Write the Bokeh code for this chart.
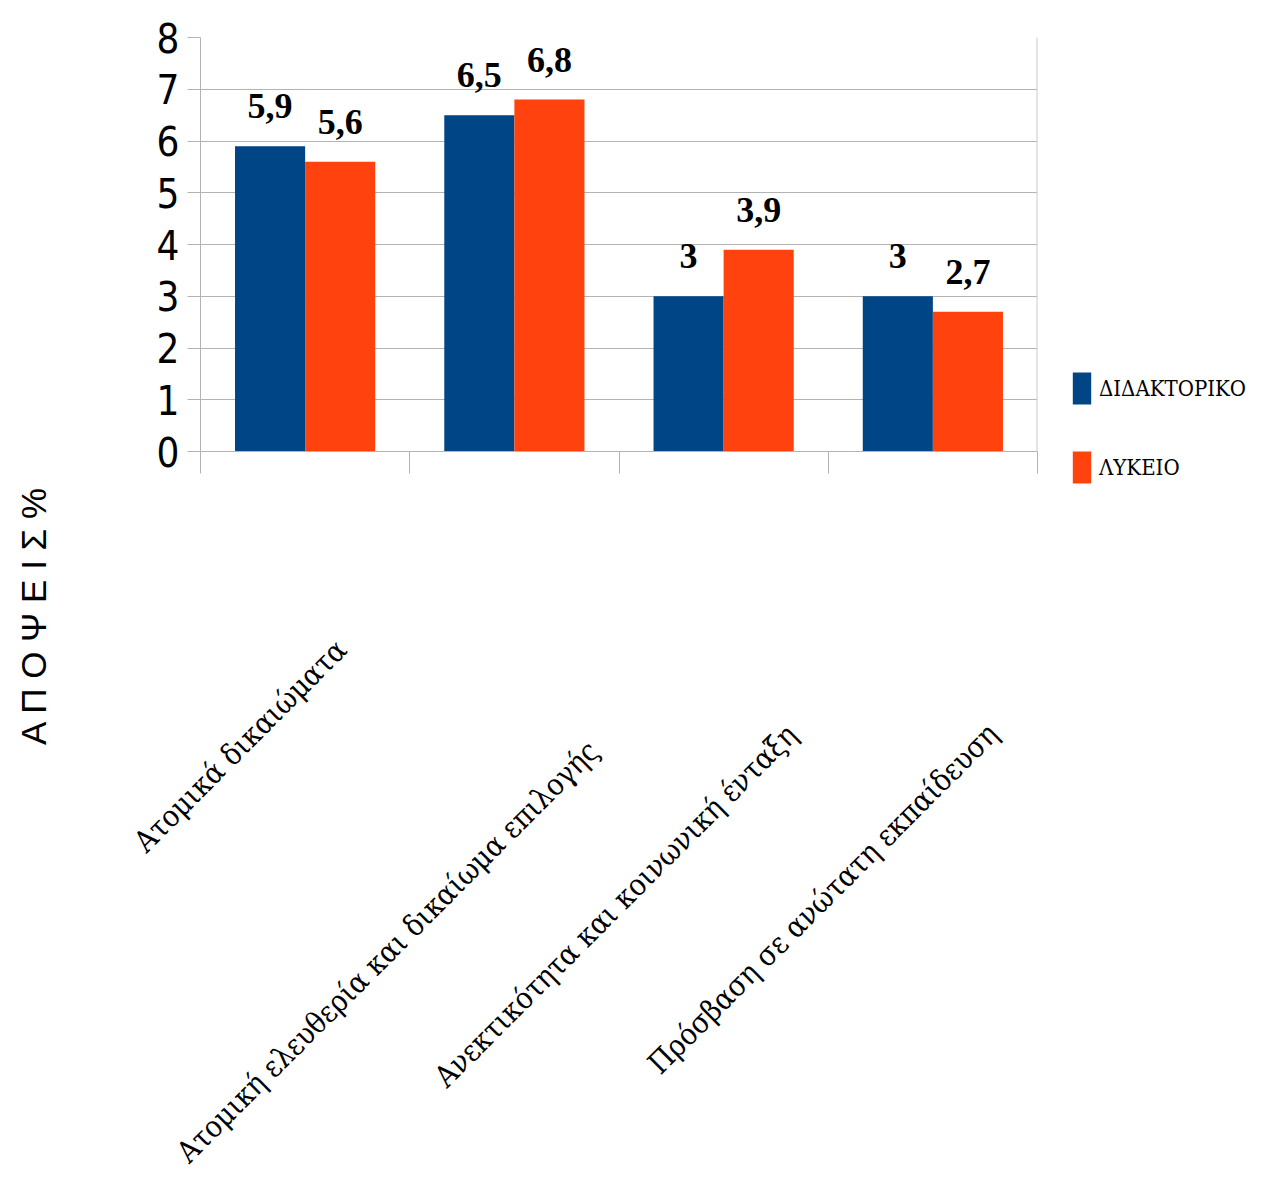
import numpy as np
from math import pi
from bokeh.plotting import figure
from bokeh.layouts import column, row
from bokeh.models import (ColumnDataSource, Range1d, FixedTicker, Span,
                          LabelSet, Legend, LegendItem)
from bokeh.core.properties import value
from bokeh.embed import file_html
from bokeh.resources import INLINE

# ---- data ----
categories = [
    "Ατομικά δικαιώματα",
    "Ατομική ελευθερία και δικαίωμα επιλογής",
    "Ανεκτικότητα και κοινωνική ένταξη",
    "Πρόσβαση σε ανώτατη εκπαίδευση",
]
series_names = ["ΔΙΔΑΚΤΟΡΙΚΟ", "ΛΥΚΕΙΟ"]
didaktoriko = [5.9, 6.5, 3.0, 3.0]
lykeio = [5.6, 6.8, 3.9, 2.7]
y_ticks = [0, 1, 2, 3, 4, 5, 6, 7, 8]
y_title = "Α Π Ο Ψ Ε Ι Σ %"

# ---- styling / layout ----
colors = ["#004586", "#ff420e"]
grid_col = "#b3b3b3"
SERIF = "'DejaVu Serif Condensed', 'DejaVu Serif', serif"
SANS_N = "'DejaVu Sans Condensed', 'Liberation Sans', sans-serif"
bar_w = 0.335
W, H = 1264, 1180
FRAME_L, FRAME_R, FRAME_T, FRAME_B = 200, 1037, 37, 451
TOP_H = 488            # height of the chart part
MAIN_W = 1064          # width of the chart part (legend strip to its right)
cat_label_dx = [-65, -127, -108, -110]    # px, label centre vs category centre
cat_label_dy = [294, 500, 454, 447]       # px below the x axis line
title_dx, title_dy = 33 - FRAME_L, 615 - FRAME_B


def fmt(v):
    return ("%g" % v).replace(".", ",")


n = len(categories)
p = figure(width=MAIN_W, height=TOP_H, x_range=Range1d(0, n),
           y_range=Range1d(y_ticks[0], y_ticks[-1]),
           output_backend="svg", toolbar_location=None,
           min_border_left=FRAME_L, min_border_right=MAIN_W - FRAME_R,
           min_border_top=FRAME_T, min_border_bottom=TOP_H - FRAME_B)
p.outline_line_color = None
p.background_fill_color = "white"
p.border_fill_color = "white"

centers = np.arange(n) + 0.5
series = [didaktoriko, lykeio]
for k, (vals, col) in enumerate(zip(series, colors)):
    xs = centers + (k - 0.5) * bar_w
    src = ColumnDataSource(dict(x=xs, top=vals, lab=[fmt(v) for v in vals]))
    p.vbar(x="x", top="top", width=bar_w, source=src,
           fill_color=col, line_color=None)
    p.add_layout(LabelSet(x="x", y="top", text="lab", source=src,
                          text_align="center", text_baseline="alphabetic",
                          y_offset=28, text_font="Liberation Serif",
                          text_font_style="bold", text_font_size="36px",
                          text_color="black"))

# axes
p.yaxis.ticker = FixedTicker(ticks=y_ticks)
p.yaxis.major_tick_out = 13
p.yaxis.major_tick_in = 0
p.yaxis.minor_tick_line_color = None
p.yaxis.major_tick_line_color = grid_col
p.yaxis.axis_line_color = grid_col
p.yaxis.major_label_text_font = SANS_N
p.yaxis.major_label_text_font_size = "40px"
p.yaxis.major_label_text_color = "black"
p.yaxis.major_label_standoff = 8

xt = list(range(n + 1))
p.xaxis.ticker = FixedTicker(ticks=xt)
p.xaxis.major_label_overrides = {t: "" for t in xt}
p.xaxis.major_label_text_font_size = "1px"
p.xaxis.major_label_standoff = 0
p.xaxis.major_tick_out = 22
p.xaxis.major_tick_in = 0
p.xaxis.minor_tick_line_color = None
p.xaxis.major_tick_line_color = grid_col
p.xaxis.axis_line_color = grid_col

p.xgrid.visible = False
p.ygrid.ticker = FixedTicker(ticks=y_ticks)
p.ygrid.grid_line_color = grid_col

p.add_layout(Span(location=n, dimension="height",
                  line_color="#cccccc", line_width=2))

# ---- legend strip (its bars lie outside its visible ranges) ----
pl = figure(width=W - MAIN_W, height=TOP_H, x_range=Range1d(-10, -9),
            y_range=Range1d(-2, -1), output_backend="svg",
            toolbar_location=None,
            x_axis_location=None, y_axis_location=None,
            min_border_left=0, min_border_right=0, min_border_top=0,
            min_border_bottom=0)
pl.frame_align = False
pl.outline_line_color = None
pl.grid.visible = False
leg_r = [pl.vbar(x=centers, top=vals, width=bar_w, fill_color=c,
                 line_color=None)
         for vals, c in zip(series, colors)]
legend = Legend(items=[LegendItem(label=nm, renderers=[r])
                       for nm, r in zip(series_names, leg_r)],
                location=(6, 1), orientation="vertical",
                glyph_width=23, glyph_height=40, label_height=40,
                label_standoff=6, spacing=39, padding=0, margin=0,
                border_line_color=None, background_fill_alpha=0,
                label_text_font=SERIF, label_text_font_size="22px",
                label_text_color="black")
pl.add_layout(legend)

# ---- category labels and y title below ----
ppu = (FRAME_R - FRAME_L) / n
p2 = figure(width=W, height=H - TOP_H,
            x_range=Range1d(-FRAME_L / ppu, (W - FRAME_L) / ppu),
            y_range=Range1d(H - FRAME_B, TOP_H - FRAME_B),
            output_backend="svg", toolbar_location=None,
            x_axis_location=None, y_axis_location=None,
            min_border_left=0, min_border_right=0, min_border_top=0,
            min_border_bottom=0)
p2.frame_align = False
p2.outline_line_color = None
p2.grid.visible = False
p2.text(x=centers, y=cat_label_dy, text=categories, x_offset=cat_label_dx,
        angle=pi / 4, text_align="center", text_baseline="middle",
        text_font=value(SERIF), text_font_size="30px",
        text_color="black")
p2.text(x=[0], y=[title_dy], text=[y_title], x_offset=title_dx,
        angle=pi / 2, text_align="center", text_baseline="middle",
        text_font=value("Liberation Sans"), text_font_size="35px",
        text_color="black")

layout = column(row(p, pl, spacing=0), p2, spacing=0)
open("out.html", "w").write(file_html(layout, INLINE))
